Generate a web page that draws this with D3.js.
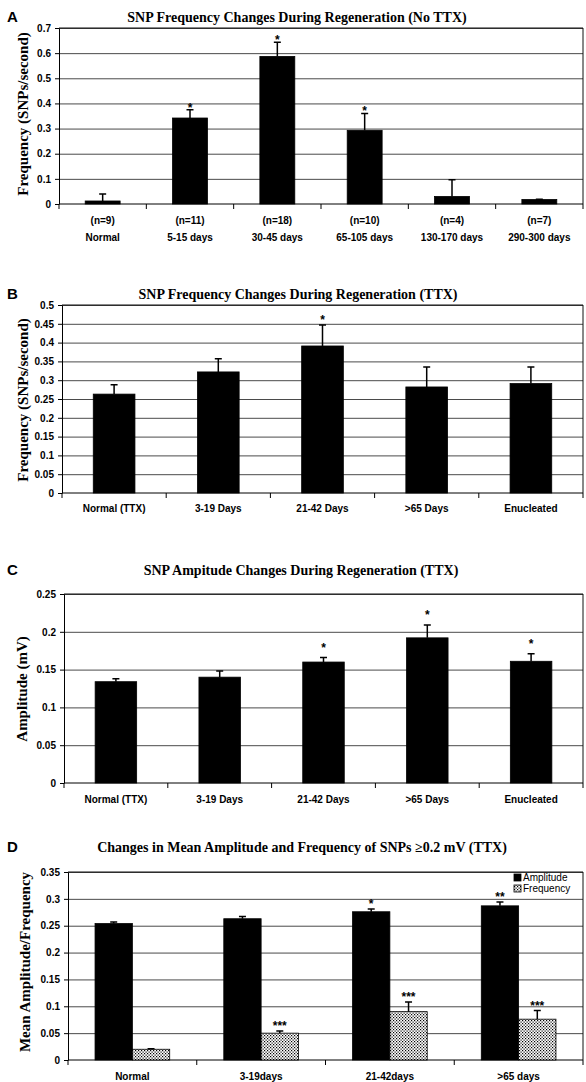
<!DOCTYPE html>
<html>
<head>
<meta charset="utf-8">
<script src="https://cdn.jsdelivr.net/npm/d3@7"></script>
<style>
  body { margin: 0; background: #fff; }
  svg { display: block; }
  .serif { font-family: "Liberation Serif", "Times New Roman", serif; font-weight: bold; }
  .sans { font-family: "Liberation Sans", Arial, sans-serif; font-weight: bold; }
</style>
</head>
<body>
<div id="chart"></div>
<script>
// Panel A - frequency, no TTX
const catsA = ['Normal', '5-15 days', '30-45 days', '65-105 days', '130-170 days', '290-300 days'];
const nA = ['(n=9)', '(n=11)', '(n=18)', '(n=10)', '(n=4)', '(n=7)'];
const freqA = [0.012, 0.342, 0.587, 0.293, 0.03, 0.018];
const errA = [0.028, 0.033, 0.056, 0.067, 0.066, 0.001];
const sigA = ['', '*', '*', '*', '', ''];
const ticksA = [0, 0.1, 0.2, 0.3, 0.4, 0.5, 0.6, 0.7];

// Panel B - frequency, TTX
const catsB = ['Normal (TTX)', '3-19 Days', '21-42 Days', '>65 Days', 'Enucleated'];
const freqB = [0.263, 0.322, 0.391, 0.282, 0.291];
const errB = [0.025, 0.035, 0.056, 0.053, 0.044];
const sigB = ['', '', '*', '', ''];
const ticksB = [0, 0.05, 0.1, 0.15, 0.2, 0.25, 0.3, 0.35, 0.4, 0.45, 0.5];

// Panel C - amplitude, TTX
const catsC = ['Normal (TTX)', '3-19 Days', '21-42 Days', '>65 Days', 'Enucleated'];
const ampC = [0.134, 0.14, 0.16, 0.192, 0.161];
const errC = [0.004, 0.008, 0.006, 0.017, 0.01];
const sigC = ['', '', '*', '*', '*'];
const ticksC = [0, 0.05, 0.1, 0.15, 0.2, 0.25];

// Panel D - SNPs >= 0.2 mV
const catsD = ['Normal', '3-19days', '21-42days', '>65 days'];
const ampD = [0.254, 0.263, 0.276, 0.287];
const ampErrD = [0.003, 0.004, 0.005, 0.007];
const sigAmpD = ['', '', '*', '**'];
const freqD = [0.02, 0.05, 0.09, 0.076];
const freqErrD = [0.001, 0.004, 0.018, 0.016];
const sigFreqD = ['', '***', '***', '***'];
const ticksD = [0, 0.05, 0.1, 0.15, 0.2, 0.25, 0.3, 0.35];
const seriesD = ['Amplitude', 'Frequency'];

const W = 586, H = 1082;
const svg = d3.select('#chart').append('svg').attr('width', W).attr('height', H);

const defs = svg.append('defs');
const pat = defs.append('pattern')
    .attr('id', 'dots')
    .attr('patternUnits', 'userSpaceOnUse')
    .attr('width', 3).attr('height', 3);
pat.append('rect').attr('width', 3).attr('height', 3).attr('fill', '#fff');
pat.append('rect').attr('x', 0).attr('y', 0).attr('width', 1.2).attr('height', 1.2).attr('fill', '#000');
pat.append('rect').attr('x', 1.5).attr('y', 1.5).attr('width', 1.2).attr('height', 1.2).attr('fill', '#000');

const fmt = d => d === 0 ? '0' : String(+d.toFixed(2));

function panel(cfg) {
    const g = svg.append('g');
    const width = cfg.right - cfg.left;

    const x = d3.scaleBand().domain(cfg.cats).range([cfg.left, cfg.right]).padding(0);
    const y = d3.scaleLinear().domain([0, d3.max(cfg.ticks)]).range([cfg.bottom, cfg.top]);

    // letter + title
    g.append('text').attr('class', 'sans')
        .attr('x', 7).attr('y', cfg.titleY)
        .style('font-size', '15px')
        .text(cfg.letter);
    g.append('text').attr('class', 'serif')
        .attr('x', cfg.titleX).attr('y', cfg.titleY)
        .attr('text-anchor', 'middle')
        .style('font-size', '14px')
        .text(cfg.title);

    // grid
    g.append('g')
        .attr('transform', `translate(${cfg.left},0)`)
        .call(d3.axisLeft(y).tickValues(cfg.ticks.filter(t => t > 0)).tickSize(-width).tickFormat(''))
        .call(s => s.select('.domain').remove())
        .call(s => s.selectAll('line').attr('stroke', '#4a4a4a').attr('stroke-width', 1));

    // frame top/right
    g.append('path')
        .attr('d', `M${cfg.left},${cfg.top}H${cfg.right}V${cfg.bottom}`)
        .attr('fill', 'none').attr('stroke', '#111').attr('stroke-width', 1);

    // y axis
    g.append('g')
        .attr('transform', `translate(${cfg.left},0)`)
        .call(d3.axisLeft(y).tickValues(cfg.ticks).tickSize(4).tickSizeOuter(0).tickPadding(4).tickFormat(fmt))
        .call(s => s.selectAll('text').attr('class', 'sans').style('font-size', '10px').attr('fill', '#000'))
        .call(s => s.selectAll('line, path').attr('stroke', '#000'));

    // x axis line with boundary ticks
    const bounds = cfg.cats.map(c => x(c)).concat([cfg.right]);
    g.append('line')
        .attr('x1', cfg.left).attr('x2', cfg.right)
        .attr('y1', cfg.bottom).attr('y2', cfg.bottom)
        .attr('stroke', '#000');
    g.selectAll('.xtick').data(bounds).enter().append('line')
        .attr('x1', d => d).attr('x2', d => d)
        .attr('y1', cfg.bottom).attr('y2', cfg.bottom + 5)
        .attr('stroke', '#000');

    // y title
    g.append('text').attr('class', 'serif')
        .attr('transform', `translate(${cfg.yTitleX},${cfg.yTitleY}) rotate(-90)`)
        .attr('text-anchor', 'middle')
        .style('font-size', '15px')
        .text(cfg.yTitle);

    // category labels
    cfg.labelRows.forEach((row, ri) => {
        g.selectAll(null).data(row).enter().append('text')
            .attr('class', 'sans')
            .attr('x', (d, i) => x(cfg.cats[i]) + x.bandwidth() / 2)
            .attr('y', cfg.labelY + ri * 17)
            .attr('text-anchor', 'middle')
            .style('font-size', '10px')
            .text(d => d);
    });

    // bars
    const nS = cfg.series.length;
    const bw = x.bandwidth() * cfg.barFrac;
    cfg.series.forEach((s, si) => {
        const off = x.bandwidth() / 2 - (nS * bw) / 2 + si * bw;
        const bg = g.append('g');
        bg.selectAll('rect').data(s.values).enter().append('rect')
            .attr('x', (d, i) => x(cfg.cats[i]) + off)
            .attr('y', d => y(d))
            .attr('width', bw)
            .attr('height', d => y(0) - y(d))
            .attr('fill', s.fill)
            .attr('stroke', '#000').attr('stroke-width', 0.8);
        const cx = i => x(cfg.cats[i]) + off + bw / 2;
        bg.selectAll('.eb').data(s.values).enter().append('path')
            .attr('d', (d, i) => {
                const yt = y(d + s.err[i]);
                return `M${cx(i)},${y(d)}V${yt}M${cx(i) - 3.5},${yt}H${cx(i) + 3.5}`;
            })
            .attr('stroke', '#000').attr('stroke-width', 1.5).attr('fill', 'none');
        bg.selectAll('.sig').data(s.sig).enter().append('text')
            .attr('class', 'sans')
            .attr('x', (d, i) => cx(i))
            .attr('y', (d, i) => y(s.values[i] + s.err[i]) - cfg.starGap + 7)
            .attr('text-anchor', 'middle')
            .style('font-size', '12px')
            .text(d => d);
    });
    return { g, x, y };
}

panel({
    letter: 'A', title: 'SNP Frequency Changes During Regeneration (No TTX)',
    titleX: 297, titleY: 22,
    top: 28, bottom: 204, left: 59, right: 583,
    cats: catsA, ticks: ticksA,
    yTitle: 'Frequency (SNPs/second)', yTitleX: 28, yTitleY: 114,
    labelRows: [nA, catsA], labelY: 224,
    barFrac: 0.4, starGap: 5,
    series: [{ values: freqA, err: errA, sig: sigA, fill: '#000' }]
});

panel({
    letter: 'B', title: 'SNP Frequency Changes During Regeneration (TTX)',
    titleX: 298, titleY: 299,
    top: 305, bottom: 493, left: 62, right: 583,
    cats: catsB, ticks: ticksB,
    yTitle: 'Frequency (SNPs/second)', yTitleX: 28, yTitleY: 400,
    labelRows: [catsB], labelY: 512,
    barFrac: 0.4, starGap: 8,
    series: [{ values: freqB, err: errB, sig: sigB, fill: '#000' }]
});

panel({
    letter: 'C', title: 'SNP Ampitude Changes During Regeneration (TTX)',
    titleX: 301, titleY: 575,
    top: 594, bottom: 783, left: 64, right: 583,
    cats: catsC, ticks: ticksC,
    yTitle: 'Amplitude (mV)', yTitleX: 27, yTitleY: 689,
    labelRows: [catsC], labelY: 803,
    barFrac: 0.4, starGap: 13,
    series: [{ values: ampC, err: errC, sig: sigC, fill: '#000' }]
});

const pD = panel({
    letter: 'D', title: 'Changes in Mean Amplitude and Frequency of SNPs \u22650.2 mV (TTX)',
    titleX: 302, titleY: 852,
    top: 872, bottom: 1060, left: 68, right: 583,
    cats: catsD, ticks: ticksD,
    yTitle: 'Mean Amplitude/Frequency', yTitleX: 30, yTitleY: 962,
    labelRows: [catsD], labelY: 1080,
    barFrac: 0.29, starGap: 8,
    series: [
        { values: ampD, err: ampErrD, sig: sigAmpD, fill: '#000' },
        { values: freqD, err: freqErrD, sig: sigFreqD, fill: 'url(#dots)' }
    ]
});

// legend for D
const leg = pD.g.append('g').attr('transform', 'translate(514,874)');
seriesD.forEach((name, i) => {
    leg.append('rect')
        .attr('x', 0).attr('y', i * 11)
        .attr('width', 7).attr('height', 7)
        .attr('fill', i === 0 ? '#000' : 'url(#dots)')
        .attr('stroke', '#000').attr('stroke-width', 0.8);
    leg.append('text')
        .attr('x', 9).attr('y', i * 11 + 7)
        .style('font-family', '"Liberation Sans", Arial, sans-serif')
        .style('font-size', '10px')
        .text(name);
});
</script>
</body>
</html>
